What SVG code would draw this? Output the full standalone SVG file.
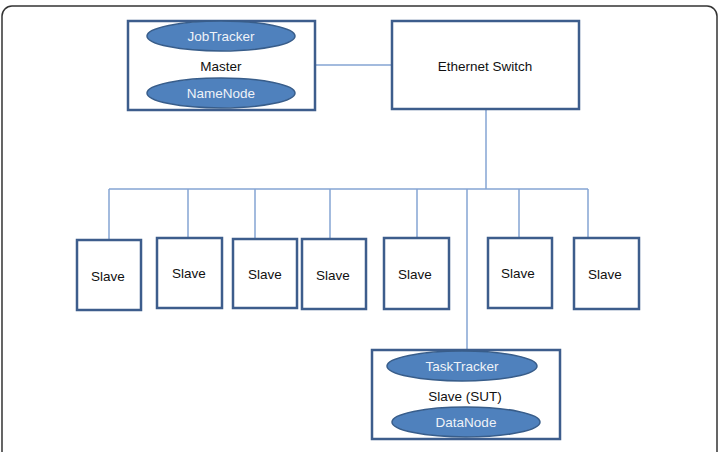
<svg xmlns="http://www.w3.org/2000/svg" width="719" height="452" viewBox="0 0 719 452">
<style>
.box{fill:#fff;stroke:#3d5d8c;stroke-width:2.5}
.ell{fill:#4f81bd;stroke:#385d8a;stroke-width:1.5}
.t{font-family:"Liberation Sans",Arial,sans-serif;font-size:13.5px;fill:#111;text-anchor:middle;dominant-baseline:central}
.tw{font-family:"Liberation Sans",Arial,sans-serif;font-size:13.5px;fill:#eef2f8;text-anchor:middle;dominant-baseline:central}
.c{fill:none;stroke:#85a5d3;stroke-width:1.5}
</style>
<rect width="719" height="452" fill="#fff"/>
<rect x="2" y="6" width="715" height="470" rx="10" fill="none" stroke="#333" stroke-width="1.5"/>
<g id="connectors">
<line class="c" x1="315" y1="65" x2="392" y2="65"/>
<line class="c" x1="486" y1="109" x2="486" y2="189"/>
<line class="c" x1="109" y1="189" x2="588" y2="189"/>
<line class="c" x1="109" y1="189" x2="109" y2="240"/>
<line class="c" x1="188" y1="189" x2="188" y2="238"/>
<line class="c" x1="255" y1="189" x2="255" y2="239"/>
<line class="c" x1="330" y1="189" x2="330" y2="239"/>
<line class="c" x1="417" y1="189" x2="417" y2="238"/>
<line class="c" x1="467" y1="189" x2="467" y2="350"/>
<line class="c" x1="519" y1="189" x2="519" y2="238"/>
<line class="c" x1="588" y1="189" x2="588" y2="238"/>
</g>
<g id="master">
<rect class="box" x="128" y="21" width="187" height="89"/>
<ellipse class="ell" cx="221" cy="36" rx="74" ry="15"/>
<text class="tw" x="221" y="36">JobTracker</text>
<text class="t" x="221" y="66">Master</text>
<ellipse class="ell" cx="221" cy="93" rx="74" ry="15"/>
<text class="tw" x="221" y="93">NameNode</text>
</g>
<g id="switch">
<rect class="box" x="392" y="21" width="187" height="88"/>
<text class="t" x="485" y="66">Ethernet  Switch</text>
</g>
<g id="slave1"><rect class="box" x="77" y="240" width="64" height="70"/><text class="t" x="108" y="276">Slave</text></g>
<g id="slave2"><rect class="box" x="157" y="238" width="65" height="70"/><text class="t" x="189" y="273">Slave</text></g>
<g id="slave3"><rect class="box" x="233" y="239" width="64" height="69"/><text class="t" x="265" y="274">Slave</text></g>
<g id="slave4"><rect class="box" x="302" y="239" width="64" height="70"/><text class="t" x="333" y="275">Slave</text></g>
<g id="slave5"><rect class="box" x="384" y="238" width="65" height="71"/><text class="t" x="415" y="274">Slave</text></g>
<g id="slave6"><rect class="box" x="488" y="238" width="64" height="70"/><text class="t" x="518" y="273">Slave</text></g>
<g id="slave7"><rect class="box" x="574" y="238" width="65" height="71"/><text class="t" x="605" y="274">Slave</text></g>
<g id="sut">
<rect class="box" x="372" y="350" width="188" height="89"/>
<ellipse class="ell" cx="462" cy="366" rx="75" ry="15"/>
<text class="tw" x="462" y="366">TaskTracker</text>
<text class="t" x="465" y="396">Slave (SUT)</text>
<ellipse class="ell" cx="466" cy="422" rx="74" ry="15"/>
<text class="tw" x="466" y="422">DataNode</text>
</g>
</svg>
